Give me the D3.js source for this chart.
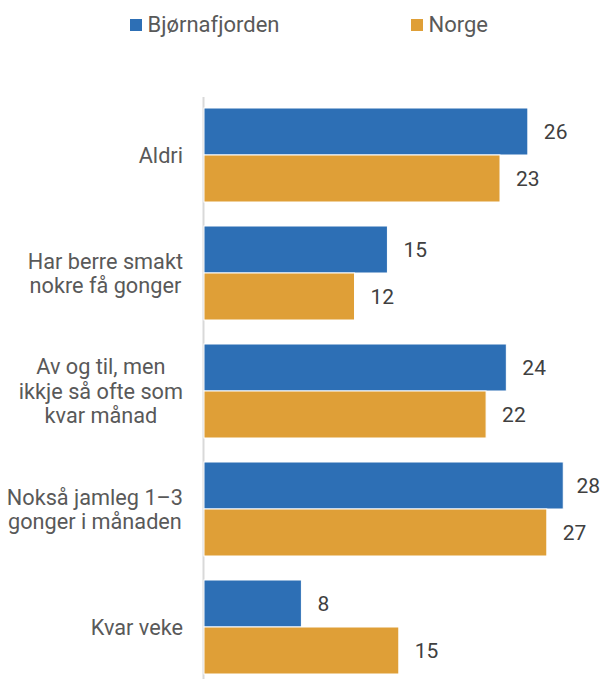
<!DOCTYPE html>
<html><head><meta charset="utf-8">
<script src="https://cdn.jsdelivr.net/npm/d3@7"></script>
<style>body{margin:0;background:#fff;} svg{display:block;font-family:Roboto, "Noto Sans", sans-serif;}</style>
</head><body>
<svg id="c" width="601" height="679"></svg>
<script>
const categories = [
  ["Aldri"],
  ["Har berre smakt", "nokre få gonger"],
  ["Av og til, men", "ikkje så ofte som", "kvar månad"],
  ["Nokså jamleg 1–3", "gonger i månaden"],
  ["Kvar veke"]
];
const seriesNames = ["Bjørnafjorden", "Norge"];
const bjornafjorden = [25.6, 14.5, 23.9, 28.4, 7.7];
const norge = [23.4, 11.9, 22.3, 27.1, 15.4];
const colors = ["#2D6FB5", "#DF9F37"];

const svg = d3.select("#c");
const W = 601;
const x = d3.scaleLinear().domain([0, 30]).range([204, 583.5]);
const y = d3.scaleBand().domain(d3.range(categories.length)).range([96, 686]).paddingInner(24/118).paddingOuter(12/118);
const sub = d3.scaleBand().domain([0, 1]).range([0, y.bandwidth()]);
const series = [bjornafjorden, norge];

// axis line
svg.append("line").attr("x1", 203.5).attr("x2", 203.5).attr("y1", 97).attr("y2", 679)
  .attr("stroke", "#d9d9d9").attr("stroke-width", 2);

// bars
series.forEach((vals, si) => {
  const g = svg.append("g");
  g.selectAll("rect").data(vals).join("rect")
    .attr("x", x(0))
    .attr("y", (d, i) => y(i) + sub(si))
    .attr("width", d => x(d) - x(0))
    .attr("height", sub.bandwidth())
    .attr("fill", colors[si])
    .attr("stroke", "#fff").attr("stroke-width", 1);
  g.selectAll("text").data(vals).join("text")
    .attr("x", d => x(d) + 16)
    .attr("y", (d, i) => y(i) + sub(si) + sub.bandwidth() / 2)
    .attr("dy", "0.36em")
    .attr("font-size", 21)
    .attr("fill", "#404040")
    .text(d => d3.format(".0f")(d))
    .each(function(d) {
      const w = this.getComputedTextLength();
      const cx = +this.getAttribute("x");
      if (cx + w > W - 1) this.setAttribute("x", W - 1 - w);
    });
});

// category labels (block right-aligned at 183, lines centred within block)
const lh = 24.5;
const labelRight = 183;
categories.forEach((lines, i) => {
  const cy = y(i) + y.bandwidth() / 2;
  const t = svg.append("text").attr("text-anchor", "middle").attr("font-size", 21.7).attr("fill", "#595959");
  const spans = lines.map((ln, j) => t.append("tspan")
      .attr("y", cy + (j - (lines.length - 1) / 2) * lh)
      .attr("dy", "0.36em").text(ln));
  const maxW = d3.max(spans, s => s.node().getComputedTextLength());
  spans.forEach(s => s.attr("x", labelRight - maxW / 2));
});

// legend
const legX = [130, 411];
seriesNames.forEach((n, i) => {
  svg.append("rect").attr("x", legX[i]).attr("y", 19).attr("width", 12).attr("height", 12).attr("fill", colors[i]);
  svg.append("text").attr("x", legX[i] + 17.5).attr("y", 24.5).attr("dy", "0.36em")
    .attr("font-size", 22).attr("fill", "#595959").text(n);
});
</script>
</body></html>
